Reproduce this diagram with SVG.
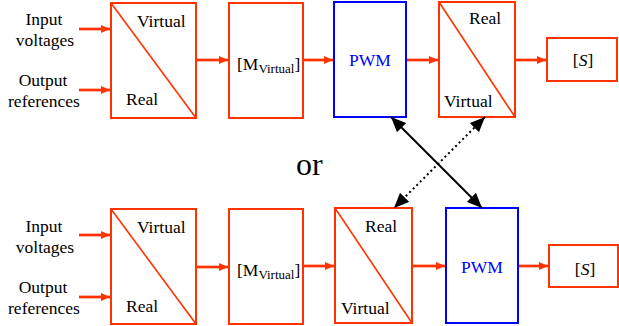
<svg xmlns="http://www.w3.org/2000/svg" width="619" height="326" viewBox="0 0 619 326">
<style>
.ob{fill:#fff;stroke:#ff3300;stroke-width:2}
.bb{fill:#fff;stroke:#0000ff;stroke-width:2}
.dg{stroke:#ff3300;stroke-width:1.6;fill:none}
.oa{stroke:#ff3300;stroke-width:2.7;fill:none;marker-end:url(#ah)}
.ka{stroke:#000;stroke-width:2;fill:none;marker-start:url(#kh);marker-end:url(#kh)}
.kd{stroke-dasharray:2 3}
.t{font-family:'Liberation Serif','DejaVu Serif',serif;font-size:17.5px;fill:#000}
.pw{fill:#0000ff}
.sub{font-size:13px}
</style>
<defs>
<marker id="ah" markerUnits="userSpaceOnUse" markerWidth="10" markerHeight="10" refX="9" refY="5" orient="auto"><path d="M0,1 L9,5 L0,9 Z" fill="#ff3300"/></marker>
<marker id="kh" markerUnits="userSpaceOnUse" markerWidth="16" markerHeight="14" refX="15" refY="7" orient="auto-start-reverse"><path d="M0,0.5 L15,7 L0,13.5 Z" fill="#000"/></marker>
</defs>

<g id="labels-top" class="t">
<text x="44" y="25" text-anchor="middle">Input</text>
<text x="45" y="46" text-anchor="middle">voltages</text>
<text x="43" y="86" text-anchor="middle">Output</text>
<text x="44" y="107" text-anchor="middle">references</text>
</g>
<g id="t-vr" class="t">
<rect class="ob" x="111" y="3" width="85" height="115"/>
<line class="dg" x1="111" y1="3" x2="196" y2="118"/>
<text x="137" y="27">Virtual</text>
<text x="126" y="105">Real</text>
</g>
<g id="t-m" class="t">
<rect class="ob" x="229" y="3" width="74" height="115"/>
<text x="237" y="70">[M<tspan class="sub" dy="3">Virtual</tspan><tspan dy="-3">]</tspan></text>
</g>
<g id="t-pwm" class="t">
<rect class="bb" x="334" y="2" width="72" height="115"/>
<text class="pw" x="370" y="66" text-anchor="middle">PWM</text>
</g>
<g id="t-rv" class="t">
<rect class="ob" x="439" y="2" width="76" height="115"/>
<line class="dg" x1="439" y1="2" x2="515" y2="117"/>
<text x="469" y="24">Real</text>
<text x="444" y="107">Virtual</text>
</g>
<g id="t-s" class="t">
<rect class="ob" x="547" y="38" width="70" height="43"/>
<text x="583" y="66" text-anchor="middle">[<tspan font-style="italic">S</tspan>]</text>
</g>

<g id="or" class="t"><text x="296" y="175" style="font-size:32px">or</text></g>

<g id="labels-bottom" class="t">
<text x="44" y="232" text-anchor="middle">Input</text>
<text x="45" y="253" text-anchor="middle">voltages</text>
<text x="43" y="293" text-anchor="middle">Output</text>
<text x="44" y="314" text-anchor="middle">references</text>
</g>
<g id="b-vr" class="t">
<rect class="ob" x="111" y="209" width="85" height="115"/>
<line class="dg" x1="111" y1="209" x2="196" y2="324"/>
<text x="137" y="233">Virtual</text>
<text x="126" y="312">Real</text>
</g>
<g id="b-m" class="t">
<rect class="ob" x="229" y="209" width="74" height="115"/>
<text x="237" y="276">[M<tspan class="sub" dy="3">Virtual</tspan><tspan dy="-3">]</tspan></text>
</g>
<g id="b-rv" class="t">
<rect class="ob" x="335" y="208" width="77" height="115"/>
<line class="dg" x1="335" y1="208" x2="412" y2="323"/>
<text x="365" y="232">Real</text>
<text x="341" y="314">Virtual</text>
</g>
<g id="b-pwm" class="t">
<rect class="bb" x="446" y="208" width="72" height="115"/>
<text class="pw" x="482" y="273" text-anchor="middle">PWM</text>
</g>
<g id="b-s" class="t">
<rect class="ob" x="549" y="245" width="69" height="42"/>
<text x="585" y="275" text-anchor="middle">[<tspan font-style="italic">S</tspan>]</text>
</g>

<g id="connectors">
<line class="oa" x1="79" y1="29" x2="110" y2="29"/>
<line class="oa" x1="79" y1="90" x2="110" y2="90"/>
<line class="oa" x1="197" y1="60" x2="228" y2="60"/>
<line class="oa" x1="304" y1="60" x2="333" y2="60"/>
<line class="oa" x1="407" y1="60" x2="438" y2="60"/>
<line class="oa" x1="516" y1="60" x2="546" y2="60"/>
<line class="oa" x1="79" y1="235" x2="110" y2="235"/>
<line class="oa" x1="79" y1="297" x2="110" y2="297"/>
<line class="oa" x1="197" y1="267" x2="228" y2="267"/>
<line class="oa" x1="304" y1="266" x2="334" y2="266"/>
<line class="oa" x1="413" y1="266" x2="445" y2="266"/>
<line class="oa" x1="519" y1="266" x2="548" y2="266"/>
<line class="ka" x1="391" y1="117" x2="482" y2="208"/>
<line class="ka kd" x1="485" y1="117" x2="394" y2="208"/>
</g>
</svg>
